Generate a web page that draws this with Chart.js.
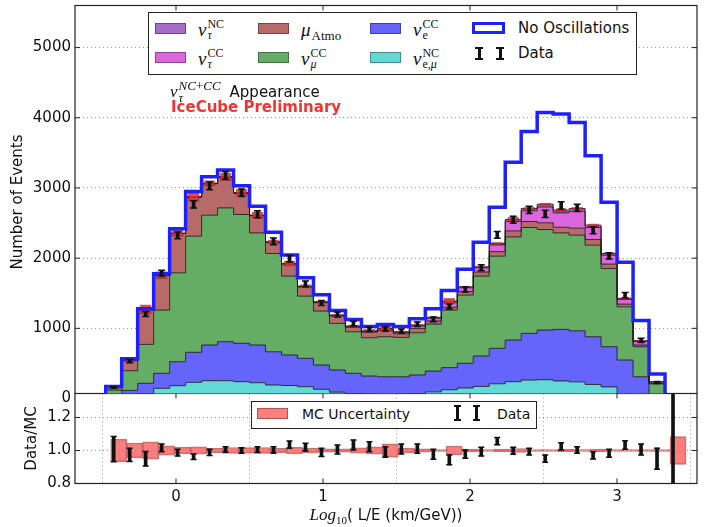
<!DOCTYPE html>
<html>
<head>
<meta charset="utf-8">
<title>nu_tau appearance</title>
<script src="https://cdn.jsdelivr.net/npm/chart.js@4.4.1/dist/chart.umd.min.js"></script>
<style>
  html, body { margin: 0; padding: 0; background: #fff; }
  #wrap { position: relative; width: 717px; height: 527px; overflow: hidden; font-family: "DejaVu Sans", sans-serif; color: #111; }
  canvas { position: absolute; left: 0; }
  #topC { top: 0; z-index: 2; }
  #botC { top: 380px; z-index: 1; }
  .abs { position: absolute; z-index: 3; white-space: nowrap; }
  .frame { background: #fff; border: 1px solid #222; box-sizing: border-box; }
  .sw { width: 31px; height: 11px; box-sizing: border-box; border: 1px solid rgba(0,0,0,0.35); }
  .m { display: flex; align-items: center; height: 24px; font-family: "Liberation Serif", "DejaVu Serif", serif; line-height: 1; }
  .m .nu { font-style: italic; font-size: 19px; }
  .m .ss { display: flex; flex-direction: column; font-size: 12px; line-height: 11px; margin-left: 1px; }
  .txt { font-size: 15px; line-height: 18px; }
  .eb { width: 8px; height: 13px; box-sizing: border-box; border-top: 2px solid #111; border-bottom: 2px solid #111; }
  .eb::before { content: ""; display: block; margin: 0 auto; width: 3px; height: 100%; background: #111; }
</style>
</head>
<body>
<div id="wrap">
  <canvas id="topC" width="717" height="412"></canvas>
  <canvas id="botC" width="717" height="147"></canvas>
  <div id="legends"></div>
</div>
<script>
// binning in log10(L/E): lower edge of the first bin and bin width
const binStart = -0.478;
const binWidth = 0.1087;

// stacked MC components, events per bin (bottom of the stack first)
const nuNCeMu = [5, 25, 60, 145, 183, 230, 254, 254, 240, 225, 192, 185, 168, 131, 90, 70, 60, 55, 60, 70, 95, 125, 150, 172, 210, 240, 263, 268, 250, 237, 200, 165, 45, 25, 8];
const nueCC = [35, 90, 156, 214, 341, 428, 508, 555, 546, 537, 474, 435, 404, 346, 316, 289, 260, 255, 250, 265, 296, 315, 351, 433, 505, 593, 665, 707, 735, 728, 680, 573, 503, 285, 45];
const numuCC = [80, 281, 555, 901, 1267, 1655, 1850, 1907, 1836, 1598, 1401, 1124, 887, 769, 664, 592, 546, 570, 561, 602, 669, 820, 972, 1139, 1313, 1470, 1509, 1433, 1375, 1362, 1305, 1115, 759, 428, 156];
const muAtmo = [38, 152, 494, 495, 559, 557, 448, 436, 303, 245, 158, 171, 130, 118, 103, 63, 78, 91, 50, 62, 45, 40, 50, 58, 65, 85, 85, 95, 80, 100, 80, 62, 38, 24, 8];
const nutauCC = [0, 0, 1, 1, 2, 2, 3, 4, 4, 4, 4, 5, 7, 9, 10, 12, 14, 20, 22, 35, 38, 70, 55, 60, 96, 135, 153, 226, 205, 240, 172, 127, 67, 50, 18];
const nutauNC = [0, 0, 2, 2, 3, 3, 3, 4, 3, 3, 3, 4, 5, 5, 6, 6, 7, 8, 8, 12, 13, 20, 12, 14, 20, 28, 32, 40, 38, 40, 33, 25, 14, 11, 5];

// expectation without oscillations
const noOsc = [170, 568, 1280, 1778, 2418, 2950, 3160, 3255, 3032, 2740, 2368, 2046, 1720, 1478, 1255, 1127, 1027, 1055, 1027, 1136, 1280, 1538, 1842, 2226, 2724, 3365, 3806, 4076, 4054, 3934, 3460, 2795, 1941, 1111, 350];

// observed events and their errors
const dataCounts = [159, 533, 1205, 1786, 2325, 2766, 3029, 3179, 2932, 2625, 2239, 1991, 1633, 1361, 1196, 1066, 987, 990, 960, 1058, 1129, 1311, 1555, 1863, 2333, 2546, 2688, 2630, 2750, 2715, 2398, 2032, 1473, 828, 228];
const dataErr = [13, 23, 35, 42, 48, 53, 55, 56, 54, 51, 47, 45, 40, 37, 35, 33, 31, 31, 31, 33, 34, 36, 39, 43, 48, 50, 52, 51, 52, 52, 49, 45, 38, 29, 15];

// lower panel: data/MC ratio (last bin is the overflow bin), its error, relative MC uncertainty
const ratio = [1.008, 0.973, 0.950, 1.016, 0.987, 0.962, 0.988, 1.006, 1.000, 1.005, 1.003, 1.035, 1.020, 0.988, 1.006, 1.033, 1.023, 0.991, 1.009, 1.011, 0.977, 0.943, 0.978, 0.993, 1.056, 0.998, 0.993, 0.950, 1.025, 1.003, 0.971, 0.983, 1.033, 1.006, 0.950, 1.000];
const ratioErr = [0.076, 0.040, 0.044, 0.023, 0.020, 0.016, 0.019, 0.017, 0.017, 0.018, 0.020, 0.022, 0.023, 0.025, 0.027, 0.030, 0.030, 0.032, 0.030, 0.028, 0.030, 0.030, 0.025, 0.026, 0.022, 0.021, 0.020, 0.022, 0.022, 0.020, 0.022, 0.024, 0.026, 0.033, 0.064, 1.0];
const mcUnc = [0.068, 0.045, 0.052, 0.028, 0.020, 0.022, 0.013, 0.018, 0.017, 0.018, 0.013, 0.020, 0.015, 0.010, 0.010, 0.016, 0.022, 0.040, 0.015, 0.010, 0.006, 0.027, 0.008, 0.006, 0.008, 0.012, 0.006, 0.006, 0.008, 0.006, 0.008, 0.006, 0.006, 0.006, 0.006, 0.084];

const yTicks = [0, 1000, 2000, 3000, 4000, 5000];
const ratioTicks = [0.8, 1.0, 1.2];
const xTicks = [0, 1, 2, 3];

Chart.defaults.font.family = '"DejaVu Sans", sans-serif';
Chart.defaults.font.size = 15;
Chart.defaults.color = '#111';

const nBins = noOsc.length;
const edges = [];
for (let i = 0; i <= nBins; i++) edges.push(binStart + i * binWidth);
const centers = edges.map(e => e + binWidth / 2);   // nBins + 1 centres (overflow bin included)

// histogram outline as a step line: left edge of every bin, closed down to zero at both ends
function stepPts(vals) {
    const pts = [{x: edges[0], y: 0}];
    vals.forEach((v, i) => pts.push({x: edges[i], y: v}));
    pts.push({x: edges[vals.length], y: 0});
    return pts;
}

const components = [
    {vals: nuNCeMu, color: '#63d8d5'},
    {vals: nueCC, color: '#6565fb'},
    {vals: numuCC, color: '#65ad65'},
    {vals: muAtmo, color: '#b76b68'},
    {vals: nutauCC, color: '#dc66dc'},
    {vals: nutauNC, color: '#a56cc8'}
];
const unc_color = 'rgba(250, 95, 95, 0.8)';
const noOscColor = '#2020ff';

let running = new Array(nBins).fill(0);
const stackSets = components.map((c, k) => {
    running = running.map((r, i) => r + c.vals[i]);
    return {
        type: 'line', data: stepPts(running), stepped: 'before',
        fill: k === 0 ? 'origin' : '-1',
        backgroundColor: c.color, borderColor: 'rgba(25,25,25,0.85)', borderWidth: 1,
        pointRadius: 0, order: 10
    };
});
const mcTotal = running;

// page y where the lower panel starts (it overlaps the bottom of the upper one)
const panelSplit = 393.5;
const botTop = 380;

// frame around the plot area with inward ticks, like the original
const frame = {
    id: 'frame',
    afterDraw(chart, args, opts) {
        const {ctx, chartArea: a, scales} = chart;
        ctx.save();
        ctx.strokeStyle = '#222';
        ctx.lineWidth = 1.2;
        ctx.strokeRect(a.left, a.top, a.right - a.left, a.bottom - a.top);
        ctx.lineWidth = 1;
        ctx.beginPath();
        opts.yTicks.forEach(v => {
            const y = scales.y.getPixelForValue(v);
            ctx.moveTo(a.left, y); ctx.lineTo(a.left + 5, y);
            ctx.moveTo(a.right, y); ctx.lineTo(a.right - 5, y);
        });
        xTicks.forEach(v => {
            const x = scales.x.getPixelForValue(v);
            ctx.moveTo(x, a.top); ctx.lineTo(x, a.top + 5);
            ctx.moveTo(x, a.bottom); ctx.lineTo(x, a.bottom - 5);
        });
        ctx.stroke();
        ctx.restore();
    }
};

// upper panel: keep everything above the lower panel, except the tick labels on the left
const cutBelow = {
    id: 'cutBelow',
    beforeDraw(chart) {
        const {ctx, chartArea: a, width, height} = chart;
        ctx.save();
        ctx.beginPath();
        ctx.rect(0, 0, width, panelSplit);
        ctx.rect(0, panelSplit, a.left - 0.7, height - panelSplit);
        ctx.clip();
    },
    afterDraw(chart) {
        chart.ctx.restore();
    }
};

const gridStyle = {color: 'rgba(0,0,0,0.4)', lineWidth: 1, drawTicks: false, borderDash: [1, 3]};
const noPad = s => { s.paddingTop = 0; s.paddingBottom = 0; s.paddingLeft = 0; s.paddingRight = 0; };

// ---------- upper panel ----------
new Chart(document.getElementById('topC'), {
    type: 'line',
    data: {
        datasets: [
            ...stackSets,
            {
                type: 'line', data: stepPts(noOsc), stepped: 'before', fill: false,
                borderColor: noOscColor, borderWidth: 3.5, pointRadius: 0, order: 2
            },
            {
                type: 'bar', grouped: false, order: 3,
                data: mcTotal.map((m, i) => ({x: centers[i], y: [m * (1 - mcUnc[i]), m * (1 + mcUnc[i])]})),
                backgroundColor: 'rgba(236, 40, 46, 0.85)', borderColor: 'rgba(140, 20, 20, 0.6)',
                borderWidth: 1, borderSkipped: false, barThickness: 11
            },
            {
                type: 'bar', grouped: false, order: 1,
                data: dataCounts.map((d, i) => ({x: centers[i], y: [d - dataErr[i], d + dataErr[i]]})),
                backgroundColor: '#111', barThickness: 3
            },
            {
                type: 'line', showLine: false, order: 0,
                data: dataCounts.flatMap((d, i) => [{x: centers[i], y: d - dataErr[i]}, {x: centers[i], y: d + dataErr[i]}]),
                pointStyle: 'line', pointRadius: 3.5, pointBorderWidth: 1.5, pointBorderColor: '#111'
            }
        ]
    },
    options: {
        responsive: false, animation: false, devicePixelRatio: 1, events: [],
        layout: {padding: {left: 0, right: 20, top: 5, bottom: 13.5}},
        plugins: {
            legend: {display: false}, tooltip: {enabled: false},
            filler: {drawTime: 'beforeDatasetsDraw'},
            frame: {yTicks: yTicks}
        },
        scales: {
            x: {type: 'linear', min: -0.687, max: 3.544, offset: false, display: false},
            y: {
                min: 0, max: 5600,
                afterBuildTicks: s => { s.ticks = yTicks.map(v => ({value: v})); },
                afterFit: s => { s.width = 75; noPad(s); },
                ticks: {padding: 4, callback: v => String(v)},
                grid: gridStyle,
                border: {display: false, dash: [1, 3]},
                title: {display: true, text: 'Number of Events', font: {size: 15}, padding: {top: 9, bottom: 0}}
            }
        }
    },
    plugins: [frame, cutBelow]
});

// ---------- lower panel ----------
const boxShift = 0.034;
new Chart(document.getElementById('botC'), {
    type: 'line',
    data: {
        datasets: [
            {
                type: 'bar', grouped: false, order: 2,
                data: mcUnc.map((u, i) => ({x: centers[i] + boxShift, y: [1 - u, 1 + u]})),
                backgroundColor: unc_color, borderColor: 'rgba(170, 60, 60, 0.7)',
                borderWidth: 1, borderSkipped: false, barThickness: 16
            },
            {
                type: 'bar', grouped: false, order: 1,
                data: ratio.map((r, i) => ({x: centers[i], y: [r - ratioErr[i], r + ratioErr[i]]})),
                backgroundColor: '#111', barThickness: 3
            },
            {
                type: 'line', showLine: false, order: 0,
                data: ratio.flatMap((r, i) => [{x: centers[i], y: r - ratioErr[i]}, {x: centers[i], y: r + ratioErr[i]}]),
                pointStyle: 'line', pointRadius: 3, pointBorderWidth: 1.5, pointBorderColor: '#111'
            }
        ]
    },
    options: {
        responsive: false, animation: false, devicePixelRatio: 1, events: [],
        layout: {padding: {left: 0, right: 20, top: panelSplit - botTop, bottom: 0}},
        plugins: {
            legend: {display: false}, tooltip: {enabled: false},
            frame: {yTicks: ratioTicks}
        },
        scales: {
            x: {
                type: 'linear', min: -0.687, max: 3.544, offset: false,
                afterBuildTicks: s => { s.ticks = xTicks.map(v => ({value: v})); },
                afterFit: s => { s.height = 43.5; noPad(s); },
                ticks: {padding: 5, maxRotation: 0, callback: v => String(v)},
                grid: gridStyle,
                border: {display: false, dash: [1, 3]}
            },
            y: {
                min: 0.8, max: 1.345,
                afterBuildTicks: s => { s.ticks = ratioTicks.map(v => ({value: v})); },
                afterFit: s => { s.width = 75; noPad(s); },
                ticks: {padding: 4, callback: v => v.toFixed(1)},
                grid: gridStyle,
                border: {display: false, dash: [1, 3]},
                title: {display: true, text: 'Data/MC', font: {size: 15}, padding: {top: 23, bottom: 0}}
            }
        }
    },
    plugins: [frame]
});

// ---------- legends and labels (HTML so sub/superscripts stay real text) ----------
const nuLabel = (sup, sub) =>
    '<span class="nu">ν</span><span class="ss"><span>' + sup + '</span><span>' + sub + '</span></span>';
const legendItems = [
    {color: components[5].color, html: nuLabel('NC', '<i>τ</i>'), left: 155, row: 0},
    {color: components[4].color, html: nuLabel('CC', '<i>τ</i>'), left: 155, row: 1},
    {color: components[3].color, html: '<span class="nu">μ</span><span class="ss" style="font-size:13px"><span>&nbsp;</span><span>Atmo</span></span>', left: 258, row: 0},
    {color: components[2].color, html: nuLabel('CC', '<i>μ</i>'), left: 258, row: 1},
    {color: components[1].color, html: nuLabel('CC', 'e'), left: 370, row: 0},
    {color: components[0].color, html: nuLabel('NC', 'e,<i>μ</i>'), left: 370, row: 1}
];

let html = '<div class="abs frame" style="left:148px;top:12px;width:489px;height:63px"></div>';
legendItems.forEach(it => {
    const swTop = it.row === 0 ? 23 : 51.5;
    const lbTop = it.row === 0 ? 17.7 : 46.8;
    html += '<div class="abs sw" style="left:' + it.left + 'px;top:' + swTop + 'px;background:' + it.color + '"></div>';
    html += '<div class="abs m" style="left:' + (it.left + 43) + 'px;top:' + lbTop + 'px">' + it.html + '</div>';
});
html += '<div class="abs" style="left:472px;top:22px;width:33px;height:12px;box-sizing:border-box;border:3px solid ' + noOscColor + ';background:#fff"></div>';
html += '<div class="abs txt" style="left:518px;top:19.3px">No Oscillations</div>';
html += '<div class="abs eb" style="left:475px;top:47px"></div><div class="abs eb" style="left:496px;top:47px"></div>';
html += '<div class="abs txt" style="left:518px;top:43.8px">Data</div>';

// annotation
html += '<div class="abs m" style="left:170px;top:79.5px"><span class="nu" style="font-size:17px">ν</span>' +
    '<span class="ss" style="font-size:13px;line-height:12px"><span><i>NC</i>+<i>CC</i></span><span><i>τ</i></span></span>' +
    '<span style="font-family:\'DejaVu Sans\',sans-serif;font-size:15px;line-height:18px;margin-left:9px">Appearance</span></div>';
html += '<div class="abs" style="left:171px;top:99px;font-size:15px;line-height:16px;font-weight:bold;color:#f03434">IceCube Preliminary</div>';

// lower legend
html += '<div class="abs frame" style="left:251px;top:401px;width:286px;height:28px"></div>';
html += '<div class="abs sw" style="left:257px;top:408px;background:' + unc_color + ';border-color:rgba(150,60,60,0.7)"></div>';
html += '<div class="abs" style="left:302px;top:405.3px;font-size:14px;line-height:18px">MC Uncertainty</div>';
html += '<div class="abs eb" style="left:454px;top:405px;width:7px;height:16px"></div><div class="abs eb" style="left:473px;top:405px;width:7px;height:16px"></div>';
html += '<div class="abs" style="left:497px;top:405.3px;font-size:14px;line-height:18px">Data</div>';

// x axis title
html += '<div class="abs" style="left:75px;width:622px;top:505px;text-align:center;font-size:15px;line-height:20px">' +
    '<span style="font-family:\'Liberation Serif\',serif;font-style:italic;font-size:17px">Log<sub style="font-size:11px;font-style:normal">10</sub></span>( L/E (km/GeV))</div>';

document.getElementById('legends').innerHTML = html;
</script>
</body>
</html>
